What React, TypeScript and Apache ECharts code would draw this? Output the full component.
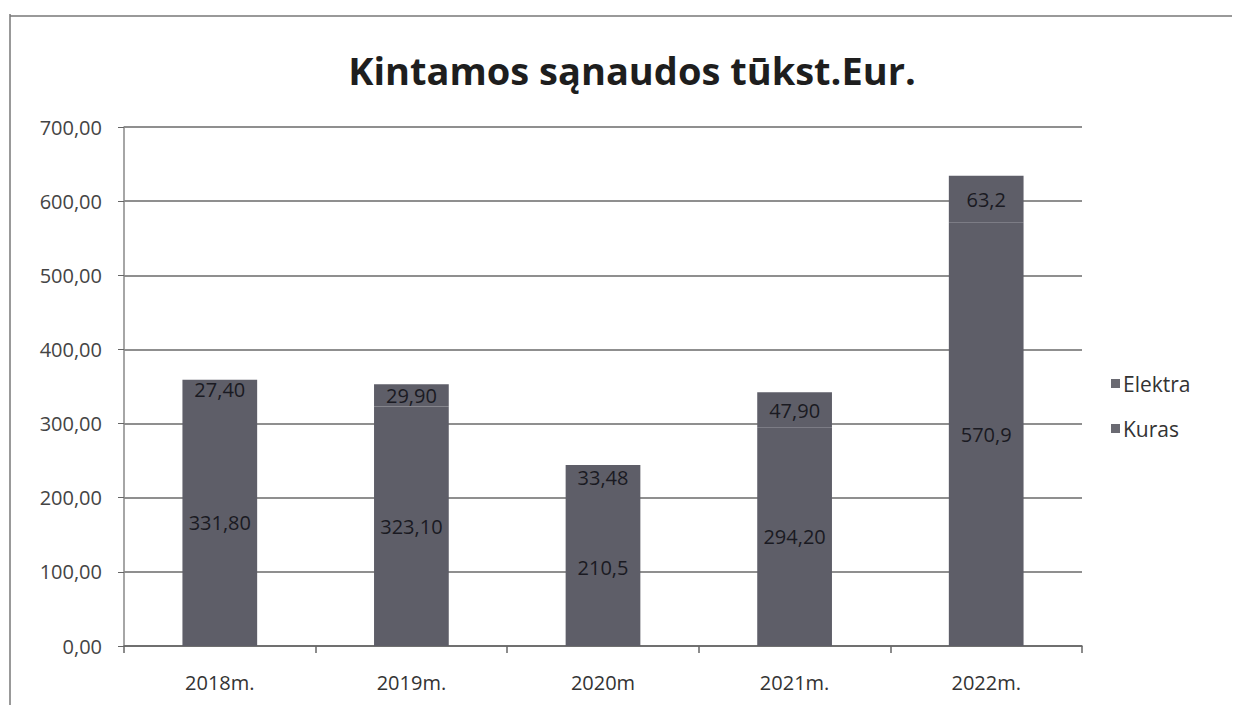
import React, { useEffect, useRef } from "react";
import * as echarts from "echarts";

const categories = ["2018m.", "2019m.", "2020m", "2021m.", "2022m."];
const kurasValues = [331.8, 323.1, 210.5, 294.2, 570.9];
const kurasLabels = ["331,80", "323,10", "210,5", "294,20", "570,9"];
const elektraValues = [27.4, 29.9, 33.48, 47.9, 63.2];
const elektraLabels = ["27,40", "29,90", "33,48", "47,90", "63,2"];
const yTicks = [0, 100, 200, 300, 400, 500, 600, 700];

const FONT = "'Open Sans', 'DejaVu Sans', sans-serif";
const BAR = "#5e5e68";

export default function App() {
  const ref = useRef<HTMLDivElement>(null);
  useEffect(() => {
    document.body.style.margin = "0";
    const chart = echarts.init(ref.current!, null, { renderer: "svg" });
    chart.setOption({
      animation: false,
      backgroundColor: "#ffffff",
      title: {
        text: "Kintamos sąnaudos tūkst.Eur.",
        left: 627,
        top: 46,
        textAlign: "center",
        textStyle: { fontFamily: FONT, fontSize: 38, fontWeight: "bold", color: "#1e1e1e" },
      },
      graphic: [
        { type: "line", shape: { x1: 10, y1: 14, x2: 10, y2: 705 }, style: { stroke: "#777", lineWidth: 1.5 } },
        { type: "line", shape: { x1: 10, y1: 16, x2: 1232, y2: 16 }, style: { stroke: "#777", lineWidth: 1.5 } },
      ],
      legend: {
        orient: "vertical",
        left: 1106,
        top: 368,
        itemGap: 24,
        itemWidth: 9,
        itemHeight: 9,
        itemStyle: { color: "#6a6a72" },
        icon: "rect",
        data: ["Elektra", "Kuras"],
        textStyle: { fontFamily: FONT, fontSize: 21, color: "#333", padding: [0, 0, 0, -2] },
      },
      grid: { left: 124, right: 155, top: 127, bottom: 59 },
      xAxis: {
        type: "category",
        data: categories,
        axisLine: { lineStyle: { color: "#666", width: 1.5 } },
        axisTick: { show: true, length: 7, lineStyle: { color: "#666", width: 1.5 } },
        axisLabel: { fontFamily: FONT, fontSize: 20, color: "#333", margin: 26 },
      },
      yAxis: {
        type: "value",
        min: yTicks[0],
        max: yTicks[yTicks.length - 1],
        interval: 100,
        axisLine: { show: true, lineStyle: { color: "#888", width: 1.5 } },
        axisTick: { show: true, length: 6, lineStyle: { color: "#666" } },
        axisLabel: {
          fontFamily: FONT,
          fontSize: 20,
          color: "#444",
          margin: 22,
          formatter: (v: number) => v.toFixed(2).replace(".", ","),
        },
        splitLine: { lineStyle: { color: "#6a6a6a", width: 1.6 } },
      },
      series: [
        {
          name: "Kuras",
          type: "bar",
          stack: "total",
          barWidth: "39%",
          data: kurasValues,
          itemStyle: { color: BAR },
          label: {
            show: true,
            position: "inside",
            fontFamily: FONT,
            fontSize: 20,
            color: "#1a1a22",
            formatter: (p: any) => kurasLabels[p.dataIndex],
          },
        },
        {
          name: "Elektra",
          type: "bar",
          stack: "total",
          barWidth: "39%",
          data: elektraValues,
          itemStyle: { color: BAR },
          label: {
            show: true,
            position: "inside",
            fontFamily: FONT,
            fontSize: 20,
            color: "#1a1a22",
            formatter: (p: any) => elektraLabels[p.dataIndex],
          },
        },
      ],
    });
    return () => chart.dispose();
  }, []);
  return <div ref={ref} style={{ width: 1237, height: 705 }} />;
}
